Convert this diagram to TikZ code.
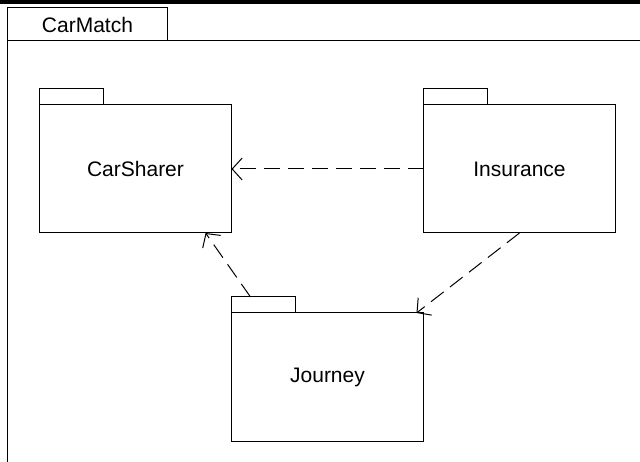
\documentclass[tikz,border=0pt]{standalone}
\usepackage{fontspec}
\setmainfont{Liberation Sans}
\usetikzlibrary{positioning,calc,arrows.meta}
\tikzset{
  pkg/.style={draw, line width=1pt, minimum width=192pt, minimum height=128pt,
    inner sep=0pt, outer sep=0pt, font=\fontsize{21}{25}\selectfont},
  pkgtab/.style={draw, line width=1pt, minimum width=64pt, minimum height=16pt,
    inner sep=0pt, outer sep=0pt},
  dep/.style={line width=1pt, dash pattern=on 16pt off 8pt,
    -{Straight Barb[length=10pt,width=22pt]}},
}

\begin{document}
\begin{tikzpicture}[x=1pt, y=-1pt]
  \useasboundingbox (0,0) rectangle (640,462);
  \fill (0,0) rectangle (640,4);
  \node[draw, line width=1pt, minimum width=160pt, minimum height=33pt, inner sep=0pt,
    outer sep=0pt, anchor=north west, font=\fontsize{21}{25}\selectfont] (cm) at (7.5,8) {CarMatch};
  \draw[line width=1pt] (cm.south west) -- ++(0,421);
  \draw[line width=1pt] (cm.south east) -- ++(472.5,0);

  \node[pkg] (cs) at (135.5,169) {CarSharer};
  \node[pkg, right=192pt of cs] (ins) {Insurance};
  \node[pkg, below right=80pt and 0pt of cs.south east] (jou) {Journey};
  \node[pkgtab, above right=0pt and 0pt of cs.north west] (cs t) {};
  \node[pkgtab, above right=0pt and 0pt of ins.north west] (ins t) {};
  \node[pkgtab, above right=0pt and 0pt of jou.north west] (jou t) {};

  \draw[dep] (ins.west) -- (cs.east);
  \draw[dep] ($(jou t.north west)+(19pt,0)$) -- ($(cs.south)!0.73!(cs.south east)$);
  \draw[dep] (ins.south) -- ($(jou.north east)+(-7pt,0)$);
\end{tikzpicture}
\end{document}
